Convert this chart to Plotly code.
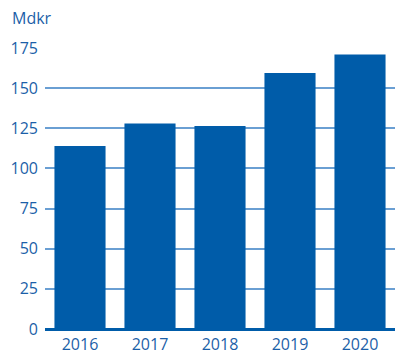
import plotly.graph_objects as go

years = ["2016", "2017", "2018", "2019", "2020"]
values = [114, 128, 126.5, 159.5, 171]
y_ticks = [0, 25, 50, 75, 100, 125, 150, 175]

bar_color = "#005ca9"
text_color = "#1c5fa8"
grid_color = "#6a9fd3"

fig = go.Figure(go.Bar(x=years, y=values, marker_color=bar_color, marker_line_width=0, width=0.73))

fig.update_layout(
    width=395, height=354,
    margin=dict(l=45, r=0, t=48, b=25),
    paper_bgcolor="white", plot_bgcolor="white",
    font=dict(family="Open Sans", size=16, color=text_color),
    showlegend=False,
    bargap=0.27,
)
fig.update_xaxes(showgrid=False, showline=False, ticks="", ticklabelstandoff=4,
                 tickfont=dict(size=16, color=text_color), automargin=False)
fig.update_yaxes(range=[0, 175], tickvals=y_ticks, showgrid=True, gridcolor=grid_color, gridwidth=1.5,
                 zeroline=True, zerolinecolor=bar_color, zerolinewidth=3,
                 ticks="", ticklabelstandoff=6, tickfont=dict(size=16, color=text_color), automargin=False)
fig.add_annotation(text="Mdkr", xref="paper", yref="paper", x=-35/350, y=1, yshift=30,
                   xanchor="left", yanchor="middle", showarrow=False, font=dict(size=16, color=text_color))

fig.write_html("out.html")
